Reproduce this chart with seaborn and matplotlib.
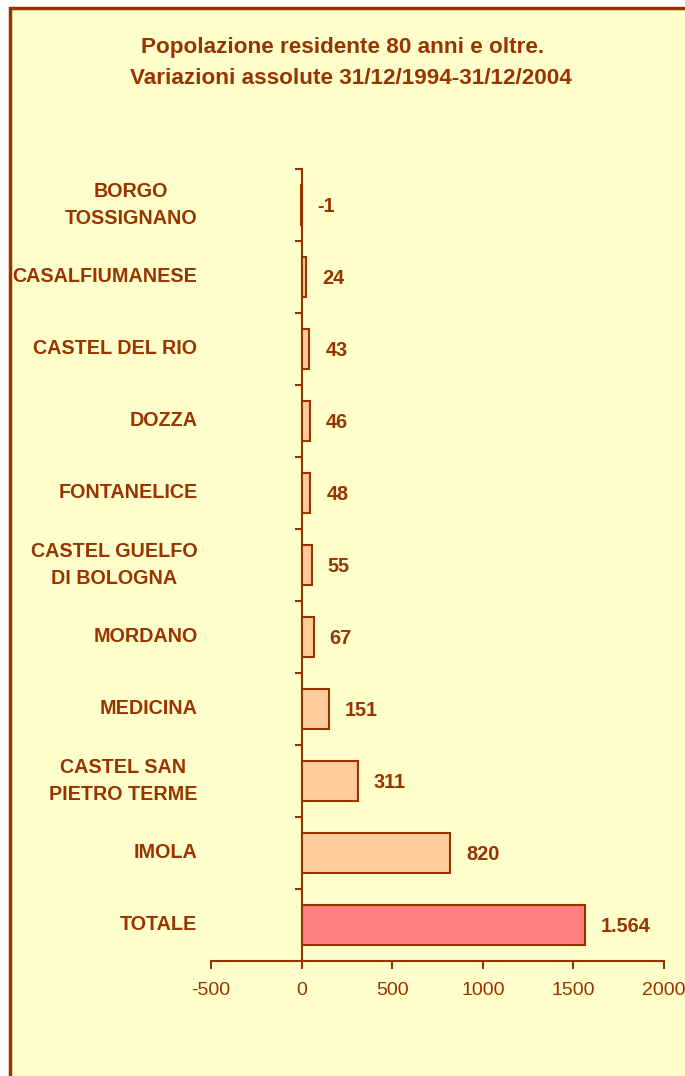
import matplotlib
matplotlib.use("Agg")
import matplotlib.pyplot as plt
import seaborn as sns
import pandas as pd
from matplotlib.patches import Rectangle

categories = ["BORGO\nTOSSIGNANO", "CASALFIUMANESE", "CASTEL DEL RIO", "DOZZA",
              "FONTANELICE", "CASTEL GUELFO\nDI BOLOGNA", "MORDANO", "MEDICINA",
              "CASTEL SAN\nPIETRO TERME", "IMOLA", "TOTALE"]
values = [-1, 24, 43, 46, 48, 55, 67, 151, 311, 820, 1564]
xticks = [-500, 0, 500, 1000, 1500, 2000]
title_lines = ["Popolazione residente 80 anni e oltre.",
               "Variazioni assolute 31/12/1994-31/12/2004"]

BROWN = "#993300"
BG = "#FFFFCC"
BAR = "#FFCC99"
TOT = "#FF8080"

sns.set_theme(style="white")
plt.rcParams["font.family"] = ["Liberation Sans", "DejaVu Sans"]

W, H = 685, 1076
fig = plt.figure(figsize=(W / 100, H / 100), dpi=100, facecolor="white")
bgrect = Rectangle((10 / W, -0.05), 1.2, 1.05 - 8 / H,
                   transform=fig.transFigure, facecolor=BG,
                   edgecolor=BROWN, linewidth=2.5, zorder=-10)
fig.add_artist(bgrect)

ax = fig.add_axes([211 / W, 1 - 961 / H, (664 - 211) / W, (961 - 169) / H])
ax.set_facecolor("none")
ax.set_zorder(5)

df = pd.DataFrame({"cat": categories, "val": values})
colors = [BAR] * (len(categories) - 1) + [TOT]
sns.barplot(data=df, x="val", y="cat", hue="cat", palette=colors, legend=False,
            orient="h", width=0.56, saturation=1, edgecolor=BROWN, linewidth=1.5,
            ax=ax)

ax.set_xlim(-500, 2000)
ax.set_ylim(len(categories) - 0.5, -0.5)
ax.set_xticks(xticks)
ax.set_xticklabels([str(t) for t in xticks], color=BROWN, fontsize=14)
ax.set_xlabel("")
ax.set_ylabel("")

for s in ["top", "right"]:
    ax.spines[s].set_visible(False)
ax.spines["left"].set_position(("data", 0))
for s in ["left", "bottom"]:
    ax.spines[s].set_color(BROWN)
    ax.spines[s].set_linewidth(1.5)
ax.spines["left"].set_zorder(10)

ax.tick_params(axis="x", direction="out", length=6, width=1.5, color=BROWN, pad=9,
               bottom=True)
ax.set_yticks(range(len(categories)))
ax.set_yticks([i - 0.5 for i in range(len(categories) + 1)], minor=True)
ax.tick_params(axis="y", which="major", length=0, pad=75, left=True)
ax.tick_params(axis="y", which="minor", direction="out", length=5, width=1.5,
               color=BROWN, left=True)
for lbl in ax.get_yticklabels():
    lbl.set_color(BROWN)
    lbl.set_fontweight("bold")
    lbl.set_fontsize(14.2)
    lbl.set_multialignment("center")
    lbl.set_linespacing(1.55)
    lbl.set_verticalalignment("center")

for i, v in enumerate(values):
    txt = f"{v:,}".replace(",", ".")
    ax.annotate(txt, xy=(max(v, 0), i), xytext=(11.5, -1), textcoords="offset points",
                ha="left", va="center", color=BROWN, fontweight="bold", fontsize=14.3)

fig.text(343 / W, 1 - 47 / H, title_lines[0], ha="center", va="center",
         color=BROWN, fontweight="bold", fontsize=16.2)
fig.text(351 / W, 1 - 78 / H, title_lines[1], ha="center", va="center",
         color=BROWN, fontweight="bold", fontsize=16.2)

fig.savefig("out.png", dpi=100, facecolor="white")
